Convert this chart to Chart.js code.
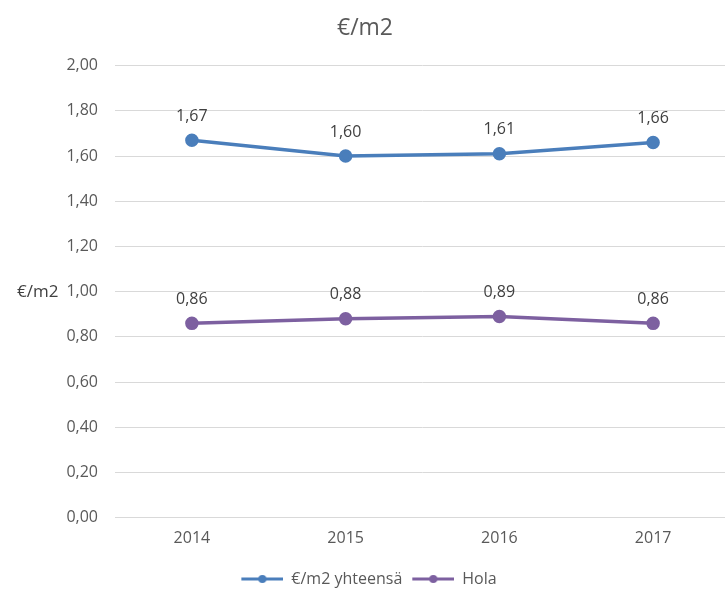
<!DOCTYPE html>
<html>
<head>
<meta charset="utf-8">
<script src="https://cdn.jsdelivr.net/npm/chart.js@4/dist/chart.umd.min.js"></script>
<style>
html,body{margin:0;padding:0;background:#fff;overflow:hidden;}
#wrap{width:740px;height:592px;position:relative;}
</style>
</head>
<body>
<div id="wrap"><canvas id="c"></canvas></div>
<script>
const categories = ['2014', '2015', '2016', '2017'];
const totalValues = [1.67, 1.60, 1.61, 1.66];
const holaValues = [0.86, 0.88, 0.89, 0.86];
const seriesNames = ['€/m2 yhteensä', 'Hola'];
const chartTitle = '€/m2';
const yAxisTitle = '€/m2';

const BLUE = '#4a7ebb';
const PURPLE = '#7d60a0';
const FONT = "'Open Sans', 'Noto Sans', sans-serif";
const TXT = '#595959';

function fmt(v){ return v.toFixed(2).replace('.', ','); }

function legendIcon(color){
  const c = document.createElement('canvas');
  c.width = 50; c.height = 10;
  const g = c.getContext('2d');
  g.strokeStyle = color; g.lineWidth = 3;
  g.beginPath(); g.moveTo(8,5); g.lineTo(50,5); g.stroke();
  g.fillStyle = color;
  g.beginPath(); g.arc(29,5,4,0,Math.PI*2); g.fill();
  return c;
}

const labelsPlugin = {
  id: 'valueLabels',
  afterDatasetsDraw(chart){
    const ctx = chart.ctx;
    ctx.save();
    ctx.font = "16px " + FONT;
    ctx.fillStyle = '#404040';
    ctx.textAlign = 'center';
    ctx.textBaseline = 'middle';
    chart.data.datasets.forEach((ds, i) => {
      const meta = chart.getDatasetMeta(i);
      meta.data.forEach((pt, j) => {
        ctx.fillText(fmt(ds.data[j]), pt.x, pt.y - 24);
      });
    });
    ctx.restore();
  }
};

const yTitlePlugin = {
  id: 'yTitle',
  afterDraw(chart){
    const ctx = chart.ctx;
    const y = chart.scales.y;
    ctx.save();
    ctx.font = "17px " + FONT;
    ctx.fillStyle = '#404040';
    ctx.textAlign = 'left';
    ctx.textBaseline = 'middle';
    ctx.fillText(yAxisTitle, 17, y.getPixelForValue(1.0));
    ctx.restore();
  }
};

new Chart(document.getElementById('c'), {
  type: 'line',
  data: {
    labels: categories,
    datasets: [
      { label: seriesNames[0], data: totalValues, borderColor: BLUE, backgroundColor: BLUE,
        borderWidth: 3.5, pointRadius: 5, pointHoverRadius: 5, tension: 0 },
      { label: seriesNames[1], data: holaValues, borderColor: PURPLE, backgroundColor: PURPLE,
        borderWidth: 3.5, pointRadius: 5, pointHoverRadius: 5, tension: 0 }
    ]
  },
  options: {
    responsive: true,
    maintainAspectRatio: false,
    animation: false,
    layout: { padding: { left: 0, right: 10, top: 0, bottom: -5 } },
    plugins: {
      title: { display: true, text: chartTitle, color: TXT,
        font: { family: FONT, size: 23, weight: 'normal' }, padding: { top: 15, bottom: 23 } },
      legend: {
        position: 'bottom',
        labels: {
          color: TXT, font: { family: FONT, size: 16 },
          boxWidth: 50, boxHeight: 10, pointStyleWidth: 50, padding: 2,
          usePointStyle: true,
          generateLabels(chart){
            return chart.data.datasets.map((ds, i) => ({
              text: ds.label, fillStyle: ds.borderColor, strokeStyle: ds.borderColor,
              lineWidth: 0, pointStyle: legendIcon(ds.borderColor), datasetIndex: i, fontColor: TXT
            }));
          }
        }
      },
      tooltip: { enabled: false }
    },
    scales: {
      x: {
        offset: true,
        afterFit(scale){ scale.height += 10; },
        grid: { display: false, drawTicks: false, offset: true },
        border: { display: true, color: '#d9d9d9', width: 1 },
        ticks: { color: TXT, font: { family: FONT, size: 16 }, padding: 11 }
      },
      y: {
        min: 0, max: 2,
        afterFit(scale){ scale.width = 115; },
        grid: { color: '#d9d9d9', drawTicks: false },
        border: { display: false },
        ticks: { stepSize: 0.2, color: TXT, font: { family: FONT, size: 16 }, padding: 17,
          callback: v => fmt(v) }
      }
    }
  },
  plugins: [labelsPlugin, yTitlePlugin]
});
</script>
</body>
</html>
